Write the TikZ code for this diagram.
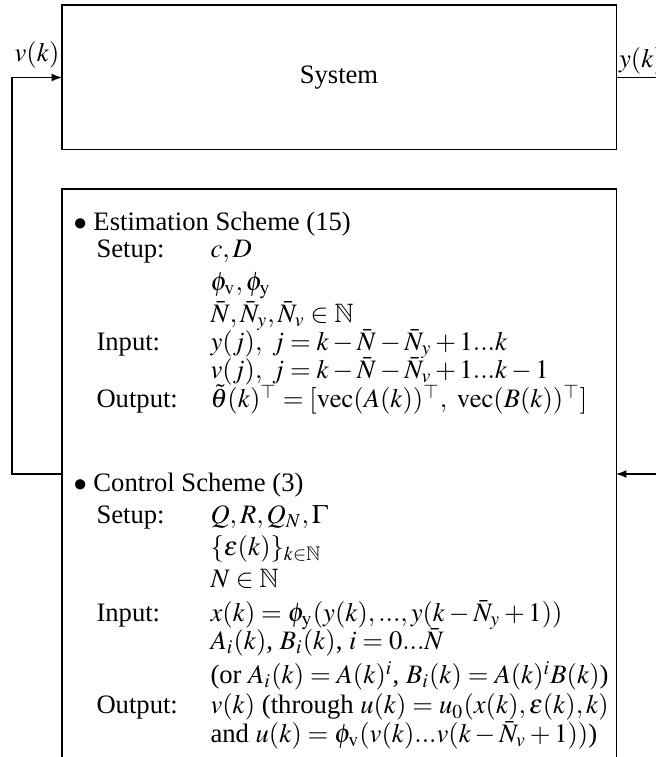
\documentclass[tikz,border=0pt]{standalone}
\usepackage{mathptmx}
\usepackage{amssymb}
\usepackage[no-math]{fontspec}
\setmainfont{Liberation Serif}
\usetikzlibrary{positioning}
\begin{document}
\begin{tikzpicture}[x=0.385pt,y=0.385pt,
    font=\fontsize{10.25pt}{12pt}\selectfont,
    blockbox/.style={draw, inner sep=0pt, outer sep=0pt},
    scheme/.style={anchor=base west, inner sep=0pt}]
  \useasboundingbox (0,0) rectangle (656,757);
  \clip (0,0) rectangle (656,757);
  % plant and scheme boxes
  \node[blockbox, minimum width=213.3pt, minimum height=55.8pt] (sys) at (339,679.5) {System};
  \node[blockbox, minimum width=213.3pt, minimum height=240pt, anchor=north] (proc) at (339,568) {};
  \coordinate (fb) at (62,283);
  % signals
  \draw[-latex] (fb) -- ++(-50,0) |- node[above,pos=0.75]{$v(k)$} (sys.west);
  \draw (sys.east) -- node[pos=0,above right,inner sep=1pt]{$y(k)$} ++(60,0);
  \draw[latex-] (fb -| proc.east) -- ++(60,0);
  % estimation part
  \node[scheme] (esthead) at (73,526) {$\bullet$ Estimation Scheme (15)};
  \foreach \yy/\lbl in {258/Setup:, 351/Input:, 408/Output:}
    \node[scheme] (estlbl\yy) at (96,757-\yy) {\lbl};
  \foreach \yy/\txt [count=\i] in {
      258/{$c,D$},
      291/{$\phi_{\mathrm{v}},\phi_{\mathrm{y}}$},
      323/{$\bar N,\bar N_y,\bar N_v\in\mathbb{N}$},
      351/{$y(j),\ j=k-\bar N-\bar N_y+1...k$},
      379/{$v(j),\ j=k-\bar N-\bar N_v+1...k-1$},
      408/{$\tilde\theta(k)^\top=[\mathrm{vec}(A(k))^\top,\ \mathrm{vec}(B(k))^\top]$}}
    \node[scheme] (est\i) at (210,757-\yy) {\txt};
  % control part
  \node[scheme] (ctrlhead) at (73,265) {$\bullet$ Control Scheme (3)};
  \foreach \yy/\lbl in {524/Setup:, 622/Input:, 714/Output:}
    \node[scheme] (ctrllbl\yy) at (96,757-\yy) {\lbl};
  \foreach \yy/\txt [count=\i] in {
      524/{$Q,R,Q_N,\Gamma$},
      556/{$\{\varepsilon(k)\}_{k\in\mathbb{N}}$},
      588/{$N\in\mathbb{N}$},
      622/{$x(k)=\phi_{\mathrm{y}}(y(k),...,y(k-\bar N_y+1))$},
      650/{$A_i(k)$, $B_i(k)$, $i=0...\bar N$},
      684/{(or $A_i(k)=A(k)^i$, $B_i(k)=A(k)^iB(k)$)},
      714/{$v(k)$ (through $u(k)=u_0(x(k),\varepsilon(k),k)$},
      743/{and $u(k)=\phi_{\mathrm{v}}(v(k)...v(k-\bar N_v+1))$)}}
    \node[scheme] (ctrl\i) at (210,757-\yy) {\txt};
\end{tikzpicture}
\end{document}
